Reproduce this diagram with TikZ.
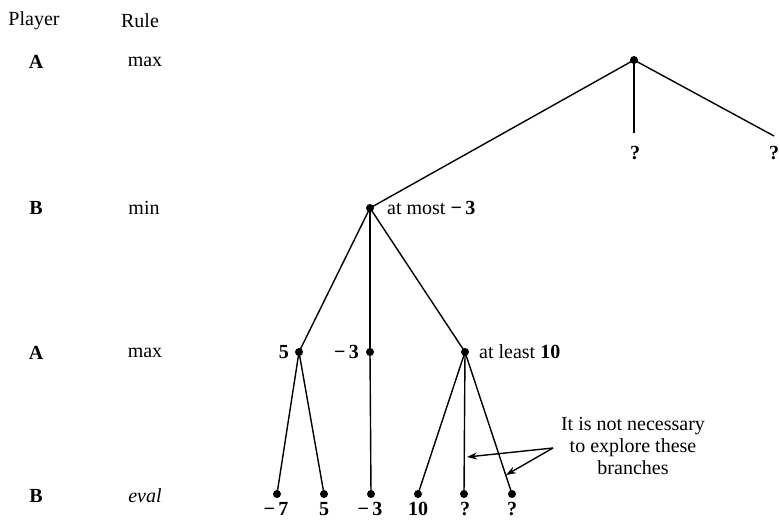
\documentclass[tikz,border=0pt]{standalone}
\usepackage{fontspec}
\setmainfont{Liberation Serif}
\usetikzlibrary{arrows.meta}
\begin{document}
\begin{tikzpicture}[x=1pt,y=-1pt,
  dot/.style={circle,fill=black,inner sep=0pt,minimum size=8pt},
  txt/.style={font=\fontsize{20}{22}\selectfont,inner sep=0pt},
  num/.style={font=\fontsize{20}{22}\selectfont\bfseries,inner sep=0pt},
  edge/.style={line width=1.4pt},
  pointer/.style={line width=1.4pt,-{Stealth[length=10pt,width=7pt]}}]
\useasboundingbox (0,0) rectangle (780,522);
% column headers and rows
\node[txt] (hplayer) at (34,21) {Player};
\node[txt] (hrule) at (140,21) {Rule};
\node[num] (p1) at (36,62) {A};
\node[txt] (r1) at (145,62) {max};
\node[num] (p2) at (36,208) {B};
\node[txt] (r2) at (144,208) {min};
\node[num] (p3) at (36,353) {A};
\node[txt] (r3) at (145,353) {max};
\node[num] (p4) at (36,496) {B};
\node[txt,font=\fontsize{20}{22}\selectfont\itshape] (r4) at (145,496) {eval};
% tree nodes
\node[dot] (root) at (634,60) {};
\node[dot] (b1) at (370,208) {};
\node[dot] (a1) at (299,352) {};
\node[dot] (a2) at (370,352) {};
\node[dot] (a3) at (465,352) {};
\node[dot] (l1) at (277,494) {};
\node[dot] (l2) at (324,494) {};
\node[dot] (l3) at (371,494) {};
\node[dot] (l4) at (418,494) {};
\node[dot] (l5) at (464,494) {};
\node[dot] (l6) at (512,494) {};
\coordinate (q1end) at (634,133);
\coordinate (q2end) at (774,136);
% edges
\draw[edge] (root.center) -- (b1.center);
\draw[edge] (root.center) -- (q1end);
\draw[edge] (root.center) -- (q2end);
\draw[edge] (b1.center) -- (a1.center);
\draw[edge] (b1.center) -- (a2.center);
\draw[edge] (b1.center) -- (a3.center);
\draw[edge] (a1.center) -- (l1.center);
\draw[edge] (a1.center) -- (l2.center);
\draw[edge] (a2.center) -- (l3.center);
\draw[edge] (a3.center) -- (l4.center);
\draw[edge] (a3.center) -- (l5.center);
\draw[edge] (a3.center) -- (l6.center);
% labels
\node[num] (q1) at (635,153) {?};
\node[num] (q2) at (774,153) {?};
\node[txt,anchor=west] (atmost) at (387,208) {at most \textbf{−\,3}};
\node[num,anchor=east] (v5) at (289,352) {5};
\node[num,anchor=east] (vm3) at (359,352) {−\,3};
\node[txt,anchor=west] (atleast) at (479,352) {at least \textbf{10}};
\node[num] (t1) at (276,509) {−\,7};
\node[num] (t2) at (324,509) {5};
\node[num] (t3) at (370,509) {−\,3};
\node[num] (t4) at (418,509) {10};
\node[num] (t5) at (465,509) {?};
\node[num] (t6) at (512,509) {?};
\node[txt,align=center] (note) at (633,446) {It is not necessary\\to explore these\\branches};
\coordinate (nstart) at (553,448);
\coordinate (h1) at (467,457);
\coordinate (h2) at (506,475);
\draw[pointer] (nstart) -- (h1);
\draw[pointer] (nstart) -- (h2);
\end{tikzpicture}
\end{document}
